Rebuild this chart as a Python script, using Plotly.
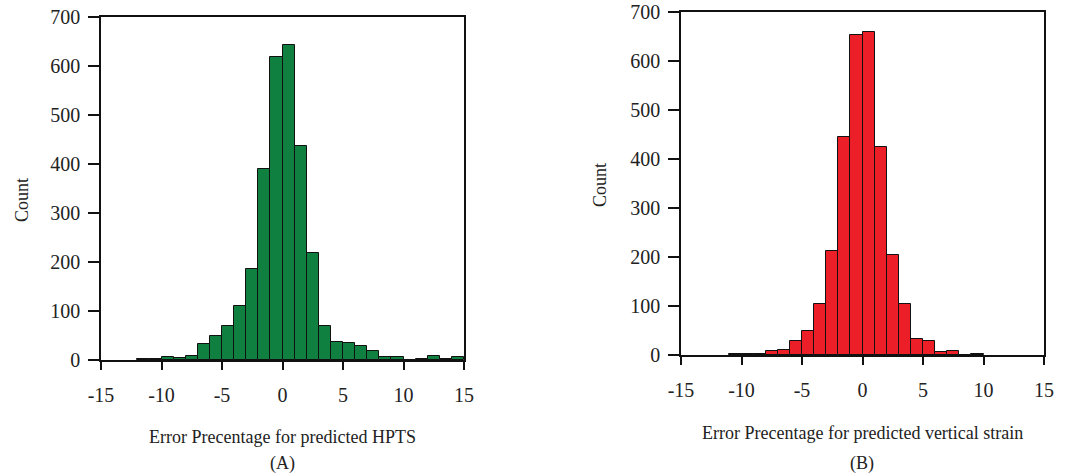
import plotly.graph_objects as go

# Panel A: HPTS error histogram (bin lower edges, width 1)
hpts_bins = list(range(-12, 15))
hpts_counts = [3, 3, 6, 4, 8, 32, 49, 69, 111, 185, 390, 618, 643, 437, 219,
               69, 36, 35, 28, 19, 7, 6, 1, 3, 8, 3, 7]

# Panel B: vertical strain error histogram
strain_bins = list(range(-11, 10))
strain_counts = [3, 3, 2, 9, 11, 28, 50, 104, 213, 445, 654, 660, 424, 204,
                 105, 33, 28, 7, 9, 0, 2]

x_ticks = [-15, -10, -5, 0, 5, 10, 15]
x_tick_labels = ["-15", "-10", "-5", "0", "5", "10", "15"]
y_ticks = [0, 100, 200, 300, 400, 500, 600, 700]
y_tick_labels = ["0", "100", "200", "300", "400", "500", "600", "700"]

FONT = "Liberation Serif"
W, H = 1073, 475

fig = go.Figure()
fig.add_trace(go.Bar(x=hpts_bins, y=hpts_counts, width=1, offset=0,
                     marker=dict(color="#108040", line=dict(color="#111111", width=1)),
                     xaxis="x", yaxis="y", showlegend=False))
fig.add_trace(go.Bar(x=strain_bins, y=strain_counts, width=1, offset=0,
                     marker=dict(color="#ec1e28", line=dict(color="#111111", width=1)),
                     xaxis="x2", yaxis="y2", showlegend=False))

def px_x(p):
    return p / W

def px_y(p):
    return 1 - p / H

common_x = dict(range=[-15, 15], tickvals=x_ticks, ticktext=x_tick_labels,
                showgrid=False, zeroline=False, automargin=False,
                showline=True, linecolor="#111111", linewidth=1.5, mirror=True,
                ticks="outside", ticklen=8, tickwidth=1.5, tickcolor="#111111",
                tickfont=dict(family=FONT, size=20, color="#222222"),
                ticklabelstandoff=8, ticklabeloverflow="allow")
common_y = dict(range=[0, 700], tickvals=y_ticks, ticktext=y_tick_labels,
                showgrid=False, zeroline=False, automargin=False,
                showline=True, linecolor="#111111", linewidth=1.5, mirror=True,
                ticks="outside", ticklen=11, tickwidth=1.5, tickcolor="#111111",
                tickfont=dict(family=FONT, size=20, color="#222222"),
                ticklabelstandoff=4, ticklabeloverflow="allow")

fig.update_layout(
    width=W, height=H,
    margin=dict(l=0, r=0, t=0, b=0),
    paper_bgcolor="white", plot_bgcolor="white",
    bargap=0,
    xaxis=dict(domain=[px_x(101), px_x(464)], anchor="y", **common_x),
    yaxis=dict(domain=[px_y(360), px_y(17)], anchor="x", **common_y),
    xaxis2=dict(domain=[px_x(681), px_x(1044)], anchor="y2", **common_x),
    yaxis2=dict(domain=[px_y(355), px_y(12)], anchor="x2", **common_y),
)

ann_font = dict(family=FONT, size=18, color="#222222")
annotations = [
    dict(text="Error Precentage for predicted HPTS", x=px_x(282), y=px_y(437)),
    dict(text="(A)", x=px_x(282), y=px_y(463)),
    dict(text="Error Precentage for predicted vertical strain", x=px_x(862), y=px_y(433)),
    dict(text="(B)", x=px_x(862), y=px_y(463)),
    dict(text="Count", x=px_x(22), y=px_y(200), textangle=-90),
    dict(text="Count", x=px_x(600), y=px_y(185), textangle=-90),
]
for a in annotations:
    fig.add_annotation(xref="paper", yref="paper", showarrow=False,
                       xanchor="center", yanchor="middle", font=ann_font, **a)

fig.write_html(
    "out.html",
    config={"displayModeBar": False},
    post_script="document.body.style.margin='0';document.body.style.overflow='hidden';",
)
